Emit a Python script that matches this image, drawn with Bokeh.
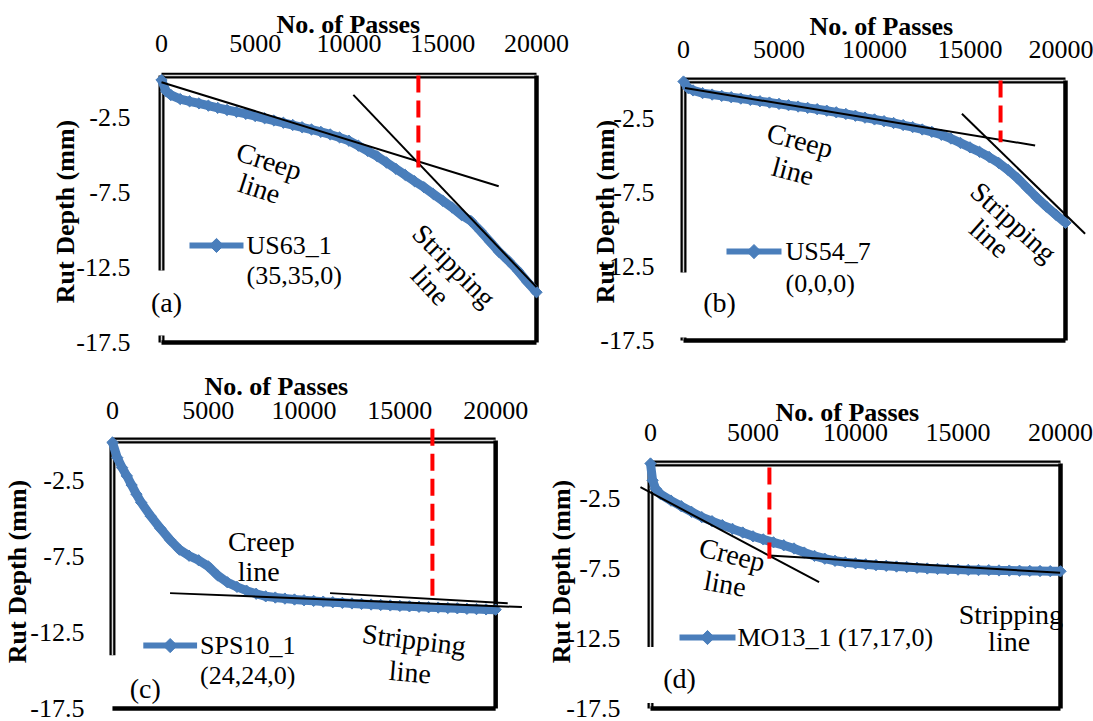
import numpy as np
from bokeh.plotting import figure
from bokeh.layouts import column, row
from bokeh.models import FixedTicker, CustomJSTickFormatter
from bokeh.core.properties import value
from bokeh.embed import file_html
from bokeh.resources import INLINE

SERIF = "Liberation Serif"
BLUE = "#4A7EBB"
RED = "#FF0000"

# ---------------- data ----------------
pass_ticks = [0, 5000, 10000, 15000, 20000]
rut_ticks = [-2.5, -7.5, -12.5, -17.5]

# (a) US63_1 (35,35,0)
us63_passes = [0, 250, 500, 1000, 1500, 2000, 2500, 3000, 3500, 4000, 4500, 5000,
               5500, 6000, 6500, 7000, 7500, 8000, 8500, 9000, 9500, 10000, 10500,
               11000, 11500, 12000, 12500, 13000, 13500, 14000, 14500, 15000, 15500,
               16000, 16500, 17000, 17500, 18000, 18500, 19000, 19500, 20000]
us63_rut = [0.0, -0.75, -1.0, -1.27, -1.42, -1.56, -1.71, -1.86, -2.0, -2.13, -2.26, -2.4,
            -2.55, -2.7, -2.85, -3.0, -3.15, -3.3, -3.46, -3.63, -3.83, -4.05, -4.38,
            -4.73, -5.08, -5.5, -5.92, -6.33, -6.75, -7.15, -7.6, -8.05, -8.5,
            -9.0, -9.4, -10.05, -10.75, -11.45, -12.05, -12.7, -13.45, -14.15]
us63_creep = ([0, 17984], [-0.15, -7.08])
us63_strip = ([10233, 20000], [-0.99, -13.81])
us63_onset = (13700, 0.3, -6.03)

# (b) US54_7 (0,0,0)
us54_passes = [0, 250, 500, 1000, 1500, 2000, 2500, 3000, 3500, 4000, 4500, 5000,
               5500, 6000, 6500, 7000, 7500, 8000, 8500, 9000, 9500, 10000, 10500,
               11000, 11500, 12000, 12500, 13000, 13500, 14000, 14500, 15000, 15500,
               16000, 16500, 17000, 17500, 18000, 18500, 19000, 19500, 20000]
us54_rut = [0.0, -0.45, -0.6, -0.78, -0.88, -0.97, -1.06, -1.15, -1.24, -1.33, -1.42, -1.51,
            -1.6, -1.69, -1.78, -1.87, -1.97, -2.08, -2.19, -2.31, -2.44, -2.56, -2.68,
            -2.8, -2.94, -3.08, -3.24, -3.4, -3.6, -3.85, -4.15, -4.45, -4.75,
            -5.1, -5.5, -5.98, -6.55, -7.2, -7.85, -8.45, -9.0, -9.55]
us54_creep = ([80, 18410], [-0.43, -4.32])
us54_strip = ([14577, 21026], [-2.18, -10.29])
us54_onset = (16600, 0.07, -4.1)

# (c) SPS10_1 (24,24,0)
sps10_passes = [0, 250, 500, 750, 1000, 1250, 1500, 2000, 2500, 3000, 3500, 4000, 4500,
                5000, 5500, 6000, 6500, 7000, 7500, 8000, 8500, 9000, 9500, 10000,
                10500, 11000, 11500, 12000, 12500, 13000, 13500, 14000, 14500, 15000,
                15500, 16000, 16500, 17000, 17500, 18000, 18500, 19000, 19500, 20000]
sps10_rut = [0.0, -1.0, -1.65, -2.2, -2.8, -3.4, -3.95, -4.85, -5.65, -6.4, -7.05, -7.45, -7.75,
             -8.15, -8.75, -9.2, -9.5, -9.75, -9.95, -10.12, -10.2, -10.27, -10.33, -10.38,
             -10.42, -10.47, -10.51, -10.55, -10.59, -10.62, -10.66, -10.69, -10.72, -10.75,
             -10.78, -10.81, -10.84, -10.86, -10.89, -10.91, -10.94, -10.96, -10.98, -11.0]
sps10_creep = ([3006, 21372], [-9.91, -10.83])
sps10_strip = ([11356, 20630], [-9.91, -10.57])
sps10_onset = (16700, 0.9, -10.6)

# (d) MO13_1 (17,17,0)
mo13_passes = [0, 100, 250, 500, 1000, 1500, 2000, 2500, 3000, 3500, 4000, 4500, 5000,
               5500, 6000, 6500, 7000, 7500, 8000, 8500, 9000, 9500, 10000, 10500,
               11000, 11500, 12000, 12500, 13000, 13500, 14000, 14500, 15000, 15500,
               16000, 16500, 17000, 17500, 18000, 18500, 19000, 19500, 20000]
mo13_rut = [0.0, -1.2, -1.8, -2.2, -2.65, -3.05, -3.45, -3.83, -4.12, -4.4, -4.67, -4.93, -5.2,
            -5.42, -5.63, -5.84, -6.07, -6.36, -6.6, -6.8, -6.95, -7.05, -7.13, -7.2,
            -7.26, -7.31, -7.36, -7.4, -7.45, -7.5, -7.53, -7.56, -7.58, -7.6,
            -7.61, -7.62, -7.64, -7.65, -7.66, -7.67, -7.68, -7.69, -7.7]
mo13_creep = ([-490, 8224], [-1.69, -8.48])
mo13_strip = ([5785, 19983], [-6.57, -7.81])
mo13_onset = (5800, -0.28, -6.8)


# ---------------- helpers ----------------
def make_panel(width, height, xr, yr, borders, x_std, title_off, title_std, y_std, ylab_std):
    left, right, top, bottom = borders
    p = figure(width=width, height=height, x_range=xr, y_range=yr,
               x_axis_location="above", y_axis_location="left",
               output_backend="svg", toolbar_location=None,
               min_border_left=left, min_border_right=right,
               min_border_top=top, min_border_bottom=bottom,
               background_fill_color="white", border_fill_color="white")
    p.outline_line_color = None
    p.xgrid.visible = False
    p.ygrid.visible = False
    for ax in (p.xaxis[0], p.yaxis[0]):
        ax.axis_line_color = None
        ax.major_tick_line_color = None
        ax.minor_tick_line_color = None
        ax.major_label_text_font = SERIF
        ax.major_label_text_font_size = "26px"
        ax.major_label_text_color = "black"
    p.xaxis.ticker = FixedTicker(ticks=pass_ticks)
    p.yaxis.ticker = FixedTicker(ticks=rut_ticks)
    p.yaxis.formatter = CustomJSTickFormatter(code="return tick.toFixed(1);")
    p.xaxis.major_label_standoff = x_std
    p.yaxis.major_label_standoff = y_std
    p.yaxis.axis_label = "Rut Depth (mm)"
    p.yaxis.axis_label_text_font = SERIF
    p.yaxis.axis_label_text_font_size = "26px"
    p.yaxis.axis_label_text_font_style = "bold"
    p.yaxis.axis_label_text_color = "black"
    p.yaxis.axis_label_standoff = ylab_std
    p.title.text = "No. of Passes"
    p.title.text_font = SERIF
    p.title.text_font_size = "26px"
    p.title.text_font_style = "bold"
    p.title.text_color = "black"
    p.title.align = "left"
    p.title.offset = title_off
    p.title.standoff = title_std
    return p


def draw_box(p, y_top, gap):
    # plot-area border: double rule on top and left, solid rule right and bottom
    p.line([0, 20000], [y_top, y_top], line_color="black", line_width=6)
    p.line([0, 20000], [y_top, y_top], line_color="#d9d9d9", line_width=1.5)
    segs = [(y_top, gap[0])]
    if gap[1] is not None:
        segs.append((gap[1], -17.5))
    for a, b in segs:
        p.line([0, 0], [a, b], line_color="black", line_width=6)
        p.line([0, 0], [a, b], line_color="#d9d9d9", line_width=1.5)
    p.line([20000, 20000], [y_top, -17.5], line_color="black", line_width=4.5)
    p.line([0, 20000], [-17.5, -17.5], line_color="black", line_width=4.5)


def draw_series(p, passes, rut, creep, strip, onset):
    p.line(passes, rut, line_color=BLUE, line_width=9)
    p.scatter(passes, rut, marker="square", angle=np.pi / 4, size=8,
              fill_color=BLUE, line_color=BLUE)
    p.line(creep[0], creep[1], line_color="black", line_width=2)
    p.line(strip[0], strip[1], line_color="black", line_width=2)
    p.line([onset[0], onset[0]], [onset[1], onset[2]], line_color=RED,
           line_width=4, line_dash="17 8")


def note(p, txt, x, y, ang, size="28px", align="center"):
    p.text(x=[x], y=[y], text=[txt], angle=np.deg2rad(ang),
           text_font=value(SERIF), text_font_size=value(size),
           text_align=align, text_baseline="middle", text_color="black")


def key(p, x0, x1, y, lines, tx, dy):
    p.line([x0, x1], [y, y], line_color=BLUE, line_width=6)
    p.scatter([(x0 + x1) / 2], [y], marker="square", angle=np.pi / 4, size=10,
              fill_color=BLUE, line_color=BLUE)
    for i, t in enumerate(lines):
        note(p, t, tx, y - i * dy, 0, size="26px", align="left")


# ---------------- (a) ----------------
pa = make_panel(580, 360, (-640, 20640), (-18.033, 0.5), (149, 32, 72, 10),
                x_std=15, title_off=127, title_std=-14, y_std=13, ylab_std=-7)
draw_box(pa, 0.3, (-12.7, -17.03))
draw_series(pa, us63_passes, us63_rut, us63_creep, us63_strip, us63_onset)
note(pa, "Creep", 5739, -5.41, -18)
note(pa, "line", 5226, -7.23, -18)
note(pa, "Stripping", 15605, -12.37, -45)
note(pa, "line", 14346, -13.7, -47)
note(pa, "(a)", 267, -14.83, 0)
key(pa, 1493, 4373, -11.03, ["US63_1", "(35,35,0)"], 4533, 2.0)

# ---------------- (b) ----------------
pb = make_panel(513, 360, (-628, 21152), (-18.176, 0.611), (91, 6, 72, 10),
                x_std=9, title_off=138, title_std=-6, y_std=11, ylab_std=-23)
draw_box(pb, 0.07, (-12.9, -17.3))
draw_series(pb, us54_passes, us54_rut, us54_creep, us54_strip, us54_onset)
note(pb, "Creep", 6105, -3.99, -15)
note(pb, "line", 5733, -6.06, -15)
note(pb, "Stripping", 17279, -9.5, -42)
note(pb, "line", 16022, -10.6, -42)
note(pb, "(b)", 1885, -14.93, 0)
key(pb, 2251, 5131, -11.49, ["US54_7", "(0,0,0)"], 5341, 2.16)

# ---------------- (c) ----------------
pc = make_panel(540, 361, (-519.5, 21558), (-18.026, 1.051), (100, 15, 66, 5),
                x_std=2, title_off=102, title_std=-5, y_std=12, ylab_std=-5)
draw_box(pc, 0.13, (-14.0, None))
draw_series(pc, sps10_passes, sps10_rut, sps10_creep, sps10_strip, sps10_onset)
note(pc, "Creep", 7772, -6.49, 0)
note(pc, "line", 7637, -8.47, 0)
note(pc, "Stripping", 15742, -12.98, -7)
note(pc, "line", 15533, -15.11, -5)
note(pc, "(c)", 1714, -16.18, 0)
key(pc, 1610, 4416, -13.36, ["SPS10_1", "(24,24,0)"], 4572, 1.97)

# ---------------- (d) ----------------
pd_ = make_panel(553, 361, (-683, 20585), (-18.071, 2.643), (96, 21, 66, 5),
                 x_std=-20, title_off=139, title_std=-12, y_std=10, ylab_std=-13)
draw_box(pd_, 0.0, (-13.1, -17.1))
draw_series(pd_, mo13_passes, mo13_rut, mo13_creep, mo13_strip, mo13_onset)
note(pd_, "Creep", 3990, -6.5, -14)
note(pd_, "line", 3639, -8.6, -10)
note(pd_, "Stripping", 17580, -10.79, 0)
note(pd_, "line", 17493, -12.69, 0)
note(pd_, "(d)", 1415, -15.36, 0)
key(pd_, 1415, 4146, -12.43, ["MO13_1 (17,17,0)"], 4244, 0)

layout = column(row(pa, pb), row(pc, pd_))
open("out.html", "w").write(file_html(layout, INLINE))
